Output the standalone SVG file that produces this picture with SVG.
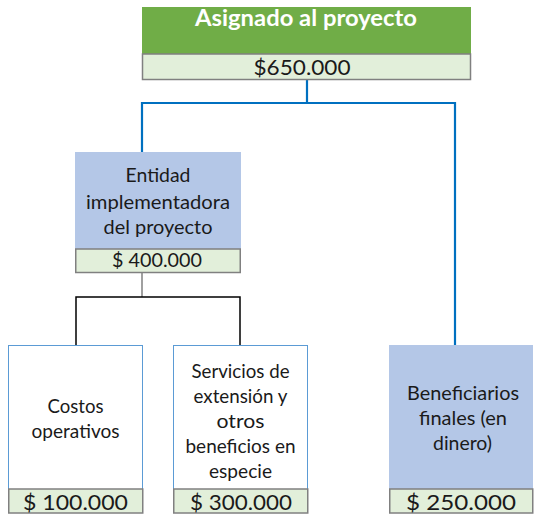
<svg xmlns="http://www.w3.org/2000/svg" width="534" height="516" viewBox="0 0 534 516">
<style>
text{font-family:Lato,"Open Sans","Liberation Sans",sans-serif;text-anchor:middle;fill:#1a1a1a}
.title{font-weight:bold;font-size:22px;fill:#ffffff}
.body{font-size:19px}
.amt{font-size:22px}
.band{fill:#e2efda;stroke:#808080;stroke-width:1.5}
.blue{fill:#b4c7e7}
.white{fill:#ffffff;stroke:#5b9bd5;stroke-width:1}
.conn{fill:none}
</style>
<rect width="534" height="516" fill="#ffffff"/>
<g id="connectors" class="conn">
<path d="M307,80 V103 M142,152 V103 H455 V345" stroke="#0070c0" stroke-width="2.2"/>
<path d="M142,273 V297" stroke="#808080" stroke-width="1.5"/>
<path d="M76,345 V297 H240 V345" stroke="#000000" stroke-width="1.5"/>
</g>
<g id="asignado">
<rect x="142" y="7" width="329" height="47" fill="#70ad47"/>
<rect class="band" x="142.5" y="54" width="328" height="25.5"/>
<text class="title" x="306" y="26" textLength="222" lengthAdjust="spacingAndGlyphs">Asignado al proyecto</text>
<text class="amt" x="302" y="75" textLength="97" lengthAdjust="spacingAndGlyphs">$650.000</text>
</g>
<g id="entidad">
<rect class="blue" x="75" y="152" width="166" height="97"/>
<rect class="band" x="75.75" y="249" width="164.5" height="23.5"/>
<text class="body" x="158" y="182" textLength="65" lengthAdjust="spacingAndGlyphs">Entidad</text>
<text class="body" x="158" y="209" textLength="144" lengthAdjust="spacingAndGlyphs">implementadora</text>
<text class="body" x="158" y="234" textLength="109" lengthAdjust="spacingAndGlyphs">del proyecto</text>
<text class="amt" x="157" y="267" style="font-size:18.5px" textLength="90" lengthAdjust="spacingAndGlyphs">$ 400.000</text>
</g>
<g id="costos">
<rect class="white" x="8.5" y="345.5" width="134" height="144"/>
<rect class="band" x="8.75" y="489" width="134" height="24"/>
<text class="body" x="75.5" y="413" textLength="56" lengthAdjust="spacingAndGlyphs">Costos</text>
<text class="body" x="75.5" y="438" textLength="88" lengthAdjust="spacingAndGlyphs">operativos</text>
<text class="amt" x="75.5" y="510" textLength="105" lengthAdjust="spacingAndGlyphs">$ 100.000</text>
</g>
<g id="servicios">
<rect class="white" x="173.5" y="345.5" width="134" height="144"/>
<rect class="band" x="173.75" y="489" width="134" height="24"/>
<text class="body" x="240.5" y="378" textLength="98" lengthAdjust="spacingAndGlyphs">Servicios de</text>
<text class="body" x="240.5" y="403" textLength="94" lengthAdjust="spacingAndGlyphs">extensión y</text>
<text class="body" x="240.5" y="428" textLength="48" lengthAdjust="spacingAndGlyphs">otros</text>
<text class="body" x="240.5" y="453" textLength="110" lengthAdjust="spacingAndGlyphs">beneficios en</text>
<text class="body" x="240.5" y="478" textLength="63" lengthAdjust="spacingAndGlyphs">especie</text>
<text class="amt" x="241" y="510" textLength="102" lengthAdjust="spacingAndGlyphs">$ 300.000</text>
</g>
<g id="beneficiarios">
<rect class="blue" x="389" y="345" width="144" height="144"/>
<rect class="band" x="389.75" y="489" width="143" height="24"/>
<text class="body" x="463" y="400" textLength="112" lengthAdjust="spacingAndGlyphs">Beneficiarios</text>
<text class="body" x="463" y="425" textLength="88" lengthAdjust="spacingAndGlyphs">finales (en</text>
<text class="body" x="462.5" y="450" textLength="59" lengthAdjust="spacingAndGlyphs">dinero)</text>
<text class="amt" x="461" y="510" textLength="110" lengthAdjust="spacingAndGlyphs">$ 250.000</text>
</g>
</svg>
